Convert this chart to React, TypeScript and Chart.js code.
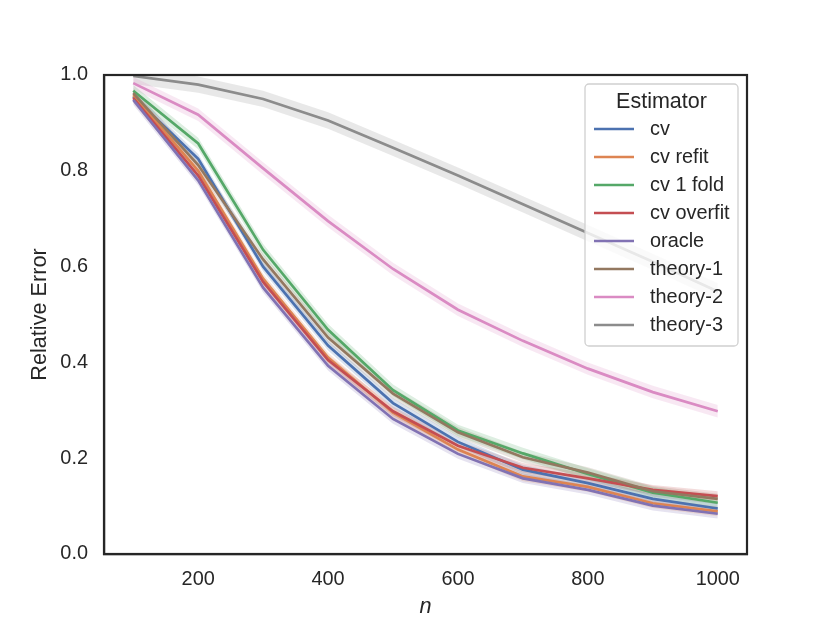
import { useEffect, useRef } from "react"
import { Chart, registerables } from "chart.js"

Chart.register(...registerables)

// sample sizes on the x axis
const sampleSizes = [100, 200, 300, 400, 500, 600, 700, 800, 900, 1000]
const xTicks = [200, 400, 600, 800, 1000]
const yTicks = [0, 0.2, 0.4, 0.6, 0.8, 1.0]

const estimators = ["cv", "cv refit", "cv 1 fold", "cv overfit", "oracle", "theory-1", "theory-2", "theory-3"]
const colors = ["#4c72b0", "#dd8452", "#55a868", "#c44e52", "#8172b3", "#937860", "#da8bc3", "#8c8c8c"]

// mean relative error per estimator
const cv = [0.955, 0.825, 0.6, 0.435, 0.315, 0.234, 0.176, 0.148, 0.115, 0.095]
const cvRefit = [0.958, 0.8, 0.575, 0.41, 0.295, 0.218, 0.162, 0.14, 0.106, 0.089]
const cvOneFold = [0.967, 0.857, 0.635, 0.468, 0.342, 0.258, 0.21, 0.167, 0.128, 0.107]
const cvOverfit = [0.952, 0.79, 0.568, 0.405, 0.298, 0.226, 0.18, 0.158, 0.134, 0.121]
const oracle = [0.948, 0.78, 0.556, 0.393, 0.282, 0.209, 0.158, 0.134, 0.101, 0.084]
const theory1 = [0.962, 0.812, 0.615, 0.452, 0.335, 0.254, 0.202, 0.17, 0.131, 0.115]
const theory2 = [0.983, 0.917, 0.805, 0.695, 0.595, 0.51, 0.445, 0.387, 0.338, 0.298]
const theory3 = [0.998, 0.98, 0.95, 0.905, 0.848, 0.79, 0.73, 0.67, 0.61, 0.548]

const errorSeries = [cv, cvRefit, cvOneFold, cvOverfit, oracle, theory1, theory2, theory3]
// half width of the confidence band around each line
const bandSpread = [0.01, 0.01, 0.012, 0.01, 0.01, 0.011, 0.013, 0.017]

const textColor = "#262626"
const fontFamily = "'Liberation Sans', Arial, sans-serif"

function withAlpha(hex: string, alpha: number) {
  const r = parseInt(hex.slice(1, 3), 16)
  const g = parseInt(hex.slice(3, 5), 16)
  const b = parseInt(hex.slice(5, 7), 16)
  return `rgba(${r}, ${g}, ${b}, ${alpha})`
}

// seaborn-like legend drawn inside the plot area
const estimatorLegend = {
  id: "estimatorLegend",
  afterDraw(chart: Chart) {
    const { ctx, chartArea } = chart
    const right = chartArea.right - 9
    const top = chartArea.top + 9
    const width = 153
    const height = 262
    const left = right - width

    ctx.save()
    ctx.beginPath()
    ctx.roundRect(left, top, width, height, 4)
    ctx.fillStyle = "rgba(255, 255, 255, 0.8)"
    ctx.fill()
    ctx.strokeStyle = "#d0d0d0"
    ctx.lineWidth = 1.3
    ctx.stroke()

    ctx.fillStyle = textColor
    ctx.textBaseline = "middle"
    ctx.textAlign = "center"
    ctx.font = `21.5px ${fontFamily}`
    ctx.fillText("Estimator", left + width / 2, top + 18)

    ctx.font = `19.9px ${fontFamily}`
    ctx.textAlign = "left"
    estimators.forEach((name, i) => {
      const y = top + 45 + i * 28
      ctx.beginPath()
      ctx.moveTo(left + 9, y)
      ctx.lineTo(left + 49, y)
      ctx.strokeStyle = colors[i]
      ctx.lineWidth = 2.7
      ctx.stroke()
      ctx.fillStyle = textColor
      ctx.fillText(name, left + 65, y + 1)
    })
    ctx.restore()
  },
}

// dark frame round the plot area, like the seaborn white style
const plotFrame = {
  id: "plotFrame",
  afterDatasetsDraw(chart: Chart) {
    const { ctx, chartArea } = chart
    ctx.save()
    ctx.strokeStyle = textColor
    ctx.lineWidth = 2.2
    ctx.strokeRect(chartArea.left, chartArea.top, chartArea.right - chartArea.left, chartArea.bottom - chartArea.top)
    ctx.restore()
  },
}

export default function App() {
  const chartRef = useRef<HTMLCanvasElement>(null)
  const chartInstance = useRef<Chart | null>(null)

  useEffect(() => {
    if (!chartRef.current) return
    if (chartInstance.current) {
      chartInstance.current.destroy()
    }
    const ctx = chartRef.current.getContext("2d")
    if (!ctx) return

    const datasets: any[] = []
    errorSeries.forEach((values, i) => {
      // band: upper edge filled down to the lower edge
      datasets.push({
        label: estimators[i] + " upper",
        data: sampleSizes.map((n, j) => ({ x: n, y: values[j] + bandSpread[i] })),
        borderWidth: 0,
        pointRadius: 0,
        backgroundColor: withAlpha(colors[i], 0.2),
        fill: "+1",
        order: 100,
      })
      datasets.push({
        label: estimators[i] + " lower",
        data: sampleSizes.map((n, j) => ({ x: n, y: values[j] - bandSpread[i] })),
        borderWidth: 0,
        pointRadius: 0,
        fill: false,
        order: 100,
      })
    })
    errorSeries.forEach((values, i) => {
      datasets.push({
        label: estimators[i],
        data: sampleSizes.map((n, j) => ({ x: n, y: values[j] })),
        borderColor: colors[i],
        borderWidth: 2.7,
        pointRadius: 0,
        fill: false,
        order: 20 - i,
      })
    })

    chartInstance.current = new Chart(ctx, {
      type: "line",
      data: { datasets },
      options: {
        responsive: false,
        animation: false,
        devicePixelRatio: 1,
        layout: { padding: { top: 75, right: 83, left: 0, bottom: 0 } },
        plugins: {
          legend: { display: false },
          tooltip: { enabled: false },
        },
        scales: {
          x: {
            type: "linear",
            min: 55,
            max: 1045,
            grid: { display: false, drawTicks: false },
            border: { display: true, color: textColor, width: 2.2 },
            afterBuildTicks: (axis: any) => {
              axis.ticks = xTicks.map((v) => ({ value: v }))
            },
            afterFit: (axis: any) => {
              axis.height = 69
            },
            ticks: {
              color: textColor,
              padding: 14,
              maxRotation: 0,
              font: { family: fontFamily, size: 19.9 },
              callback: (value: any) => String(value),
            },
            title: {
              display: true,
              text: "n",
              color: textColor,
              padding: { top: 0, bottom: 3 },
              font: { family: fontFamily, size: 21.7, style: "italic" },
            },
          },
          y: {
            min: 0,
            max: 1,
            grid: { display: false, drawTicks: false },
            border: { display: true, color: textColor, width: 2.2 },
            afterBuildTicks: (axis: any) => {
              axis.ticks = yTicks.map((v) => ({ value: v }))
            },
            afterFit: (axis: any) => {
              axis.width = 104
            },
            ticks: {
              color: textColor,
              padding: 16,
              font: { family: fontFamily, size: 19.9 },
              callback: (value: any) => Number(value).toFixed(1),
            },
            title: {
              display: true,
              text: "Relative Error",
              color: textColor,
              padding: { top: 27, bottom: 0 },
              font: { family: fontFamily, size: 21.7 },
            },
          },
        },
      },
      plugins: [estimatorLegend, plotFrame],
    })

    return () => {
      if (chartInstance.current) {
        chartInstance.current.destroy()
        chartInstance.current = null
      }
    }
  }, [])

  return (
    <div style={{ position: "absolute", left: 0, top: 0, width: 830, height: 623, background: "#fff" }}>
      <canvas ref={chartRef} width={830} height={623} />
    </div>
  )
}
